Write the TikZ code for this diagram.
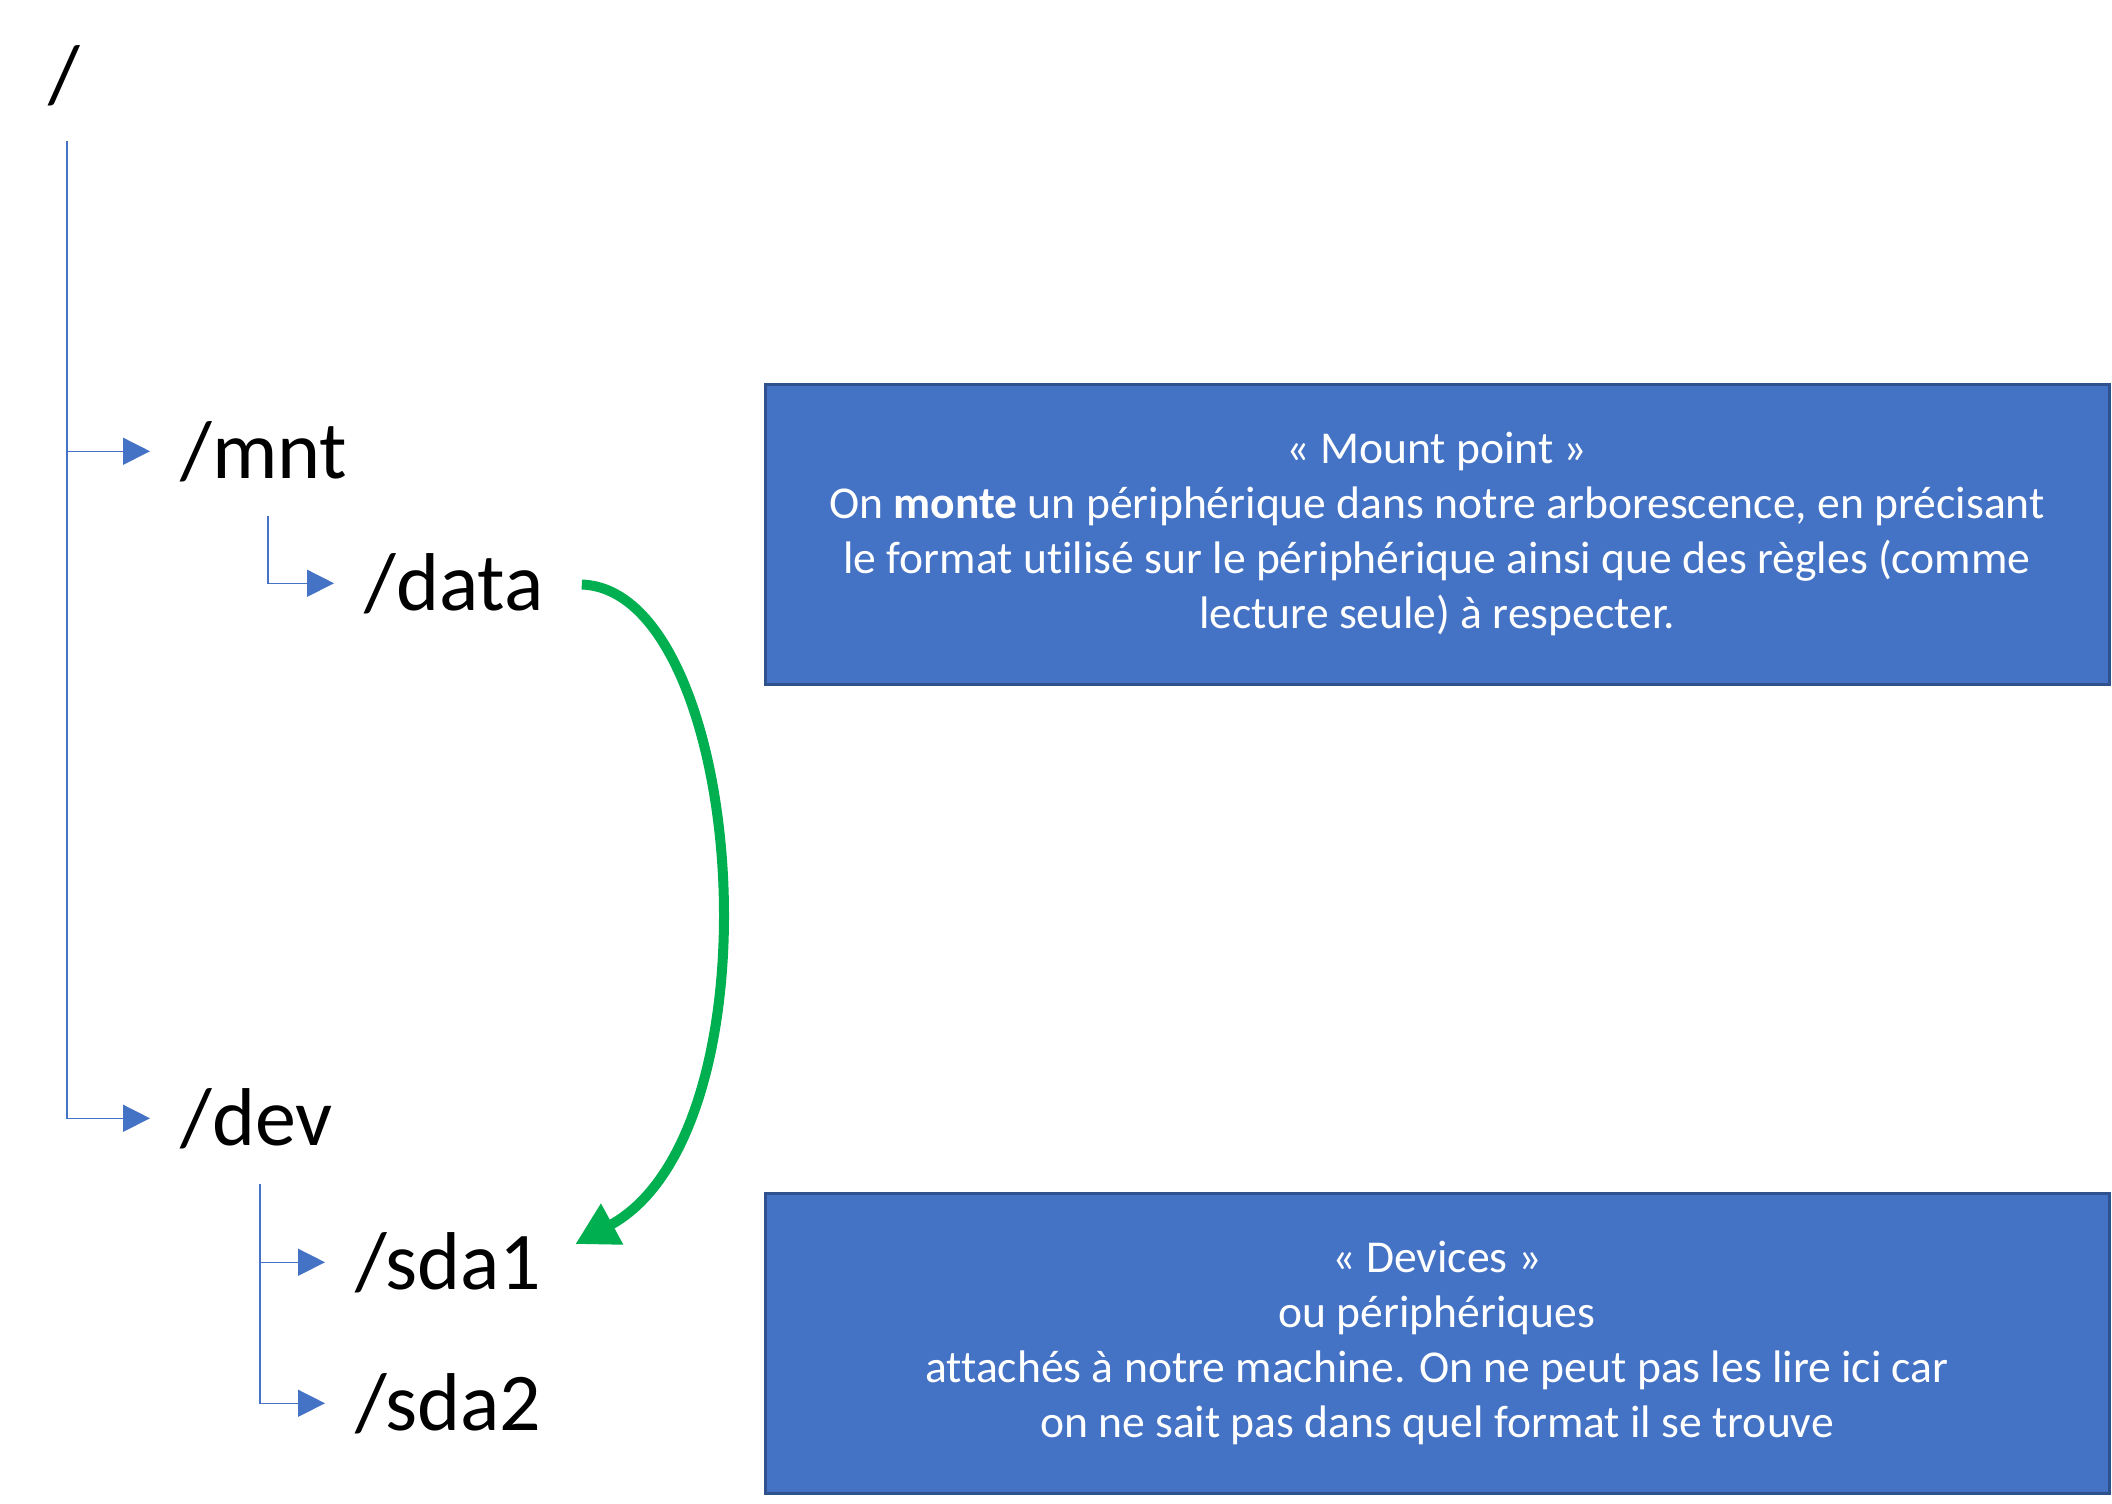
\documentclass[tikz,border=0pt]{standalone}
\usepackage{fontspec}
\setmainfont{Carlito}[Ligatures=NoCommon]
\usetikzlibrary{arrows.meta}

\definecolor{treeblue}{HTML}{4472C4}
\definecolor{boxedge}{HTML}{2F528F}
\definecolor{mountgreen}{HTML}{00B050}

\begin{document}
\begin{tikzpicture}[x=0.5pt,y=-0.5pt]
        \tikzset{dirlabel/.style={anchor=base west, inner sep=0pt,
                font=\fontsize{41}{49}\selectfont},
            treeline/.style={draw=treeblue, line width=0.75pt, shorten >=15pt,
                -{Triangle[length=13.5pt,width=13.5pt]}},
            mountarrow/.style={draw=mountgreen, line width=5pt,
                shorten <=19pt, shorten >=19pt,
                -{Triangle[length=21pt,width=22pt]}},
            infobox/.style={fill=treeblue, draw=boxedge, line width=1.5pt,
                minimum width=672pt, minimum height=150pt, align=center,
                text=white, font=\fontsize{22.8}{27.5}\selectfont}}
        \useasboundingbox (0,0) rectangle (2112,1503);
        % directories
        \node[dirlabel] (root) at (48,103) {/};
        \node[dirlabel] (mnt) at (180,478) {/mnt};
        \node[dirlabel] (data) at (364,610) {/data};
        \node[dirlabel] (dev) at (180,1145) {/dev};
        \node[dirlabel] (sdaone) at (355,1289) {/sda1};
        \node[dirlabel] (sdatwo) at (355,1430) {/sda2};
        % tree
        \coordinate (spine) at (67,141);
        \coordinate (mntfork) at (268,516);
        \coordinate (devfork) at (260,1184);
        \draw[treeline] (spine) |- (mnt.west);
        \draw[treeline] (spine) |- (dev.west);
        \draw[treeline] (mntfork) |- (data.west);
        \draw[treeline] (devfork) |- (sdaone.west);
        \draw[treeline] (devfork) |- (sdatwo.west);
        % mount
        \draw[mountarrow] (data.east) .. controls (745,590) and (785,1130) .. (sdaone.east);
        % notes
        \node[infobox] (mountbox) at (1437,534) {« Mount point »\\
            On \textbf{monte} un périphérique dans notre arborescence, en précisant\\
            le format utilisé sur le périphérique ainsi que des règles (comme\\
            lecture seule) à respecter.};
        \node[infobox] (devbox) at (1437,1343) {« Devices »\\
            ou périphériques\\
            attachés à notre machine. On ne peut pas les lire ici car\\
            on ne sait pas dans quel format il se trouve};
\end{tikzpicture}
\end{document}
